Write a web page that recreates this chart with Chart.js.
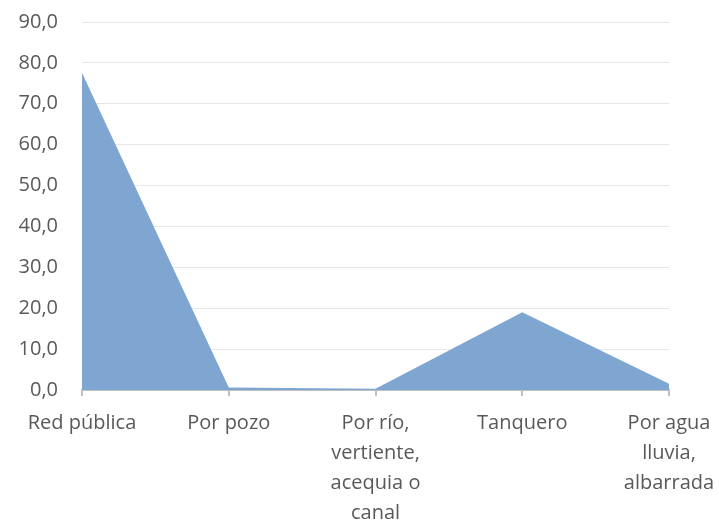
<!DOCTYPE html>
<html><head><meta charset="utf-8">
<style>html,body{margin:0;padding:0;background:#fff}#wrap{width:719px;height:520px}</style>
<script src="https://cdn.jsdelivr.net/npm/chart.js@4"></script>
</head><body><div id="wrap"><canvas id="c" width="719" height="520"></canvas></div>
<script>
const categories = [
  ["Red pública"],
  ["Por pozo"],
  ["Por río,", "vertiente,", "acequia o", "canal"],
  ["Tanquero"],
  ["Por agua", "lluvia,", "albarrada"]
];
const values = [77.6, 0.6, 0.3, 19.0, 1.5];
const yMin = 0, yMax = 90, yStep = 10;

const FONT = "'Open Sans', sans-serif";
new Chart(document.getElementById('c'), {
  type: 'line',
  data: {
    labels: categories,
    datasets: [{
      data: values,
      fill: 'origin',
      backgroundColor: '#7fa5d1',
      borderColor: '#7fa5d1',
      borderWidth: 0,
      pointRadius: 0,
      tension: 0
    }]
  },
  options: {
    responsive: false,
    animation: false,
    layout: { padding: { top: 22, right: 50, left: 0, bottom: 0 } },
    plugins: { legend: { display: false }, tooltip: { enabled: false } },
    scales: {
      x: {
        offset: false,
        grid: { drawOnChartArea: false, drawTicks: true, tickLength: 6, color: '#c0c0c0', lineWidth: 2 },
        border: { display: true, color: '#c0c0c0', width: 2 },
        ticks: { color: '#595959', font: { family: FONT, size: 20, lineHeight: 1.5 }, padding: 12, maxRotation: 0, autoSkip: false },
        afterFit: s => { s.height = 130; s.paddingLeft = 0; s.paddingRight = 0; s.paddingTop = 0; s.paddingBottom = 0; }
      },
      y: {
        min: yMin, max: yMax,
        grid: { drawTicks: false, color: '#e6e6e6', lineWidth: 1 },
        border: { display: false },
        ticks: { stepSize: yStep, color: '#595959', font: { family: FONT, size: 20, lineHeight: 1.2 }, padding: 24,
          callback: v => v.toFixed(1).replace('.', ',') },
        afterFit: s => { s.width = 82; s.paddingTop = 0; s.paddingBottom = 0; s.paddingLeft = 0; s.paddingRight = 0; }
      }
    }
  }
});
</script></body></html>
